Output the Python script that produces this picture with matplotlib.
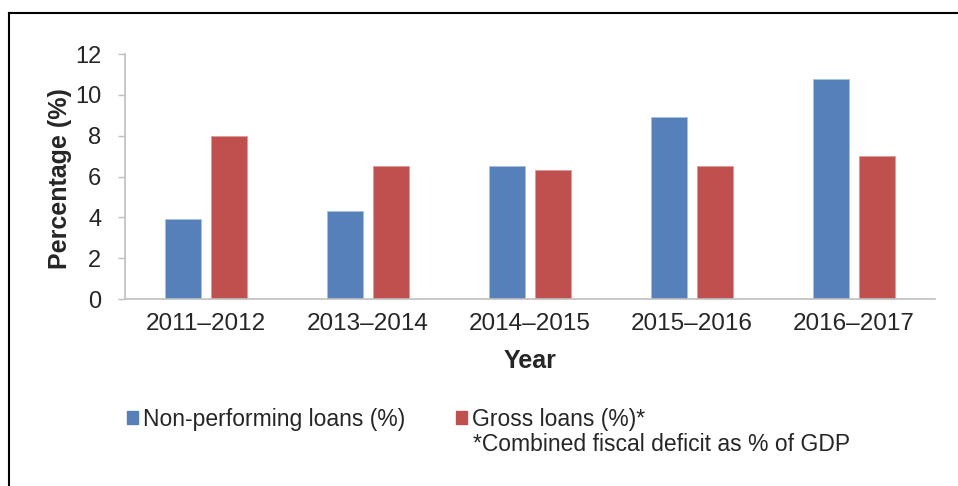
import numpy as np
import matplotlib.pyplot as plt
from matplotlib.lines import Line2D
from matplotlib.patches import Patch

plt.rcParams['font.family'] = ['Liberation Sans', 'DejaVu Sans']

years = ['2011–2012', '2013–2014', '2014–2015', '2015–2016', '2016–2017']
npl = [3.9, 4.3, 6.5, 8.9, 10.8]
gross = [8.0, 6.5, 6.3, 6.5, 7.0]

blue = '#5580b9'
red = '#c0504d'
txt = '#262626'

fig = plt.figure(figsize=(9.58, 4.86), dpi=100)
ax = fig.add_axes([125/958, 1-299/486, 810/958, 245/486])

x = np.arange(len(years))
w = 0.222
off = 0.142
ax.bar(x - off, npl, w, color=blue, edgecolor='#a9c0df', linewidth=0.6)
ax.bar(x + off, gross, w, color=red, edgecolor='#e09a98', linewidth=0.6)

ax.set_xlim(-0.5, 4.5)
ax.set_ylim(0, 12)
ax.set_yticks(range(0, 13, 2))
ax.set_xticks(x)
ax.set_xticklabels(years)
for s in ['top', 'right']:
    ax.spines[s].set_visible(False)
for s in ['left', 'bottom']:
    ax.spines[s].set_color('#bfbfbf')
    ax.spines[s].set_linewidth(1.2)
ax.tick_params(axis='y', length=5, width=1.0, color='#bfbfbf', pad=12,
               labelsize=17, labelcolor=txt)
ax.tick_params(axis='x', length=0, pad=10, labelsize=17.5, labelcolor=txt)

ax.set_ylabel('Percentage (%)', fontsize=18, fontweight='bold', color=txt)
ax.yaxis.set_label_coords(-0.066, 0.49)
ax.set_xlabel('Year', fontsize=18, fontweight='bold', color=txt)
ax.xaxis.set_label_coords(0.5, -0.205)

handles = [Patch(color=blue), Patch(color=red)]
fig.legend(handles, ['Non-performing loans (%)', 'Gross loans (%)*'],
           loc='center left', bbox_to_anchor=(127/958, 1-419/486), ncol=2,
           frameon=False, fontsize=16.5, handlelength=0.48, handleheight=0.48,
           handletextpad=0.22, columnspacing=2.2, borderpad=0, borderaxespad=0,
           labelcolor=txt)
fig.text(473/958, 1-451/486, '*Combined fiscal deficit as % of GDP',
         fontsize=16.5, color=txt, va='baseline', ha='left')

# outer frame
fig.add_artist(Line2D([9/958, 1.0], [1-13/486, 1-13/486], transform=fig.transFigure,
                      color='black', linewidth=1.5))
fig.add_artist(Line2D([9/958, 9/958], [0, 1-13/486], transform=fig.transFigure,
                      color='black', linewidth=1.5))

fig.savefig('out.png', dpi=100)
